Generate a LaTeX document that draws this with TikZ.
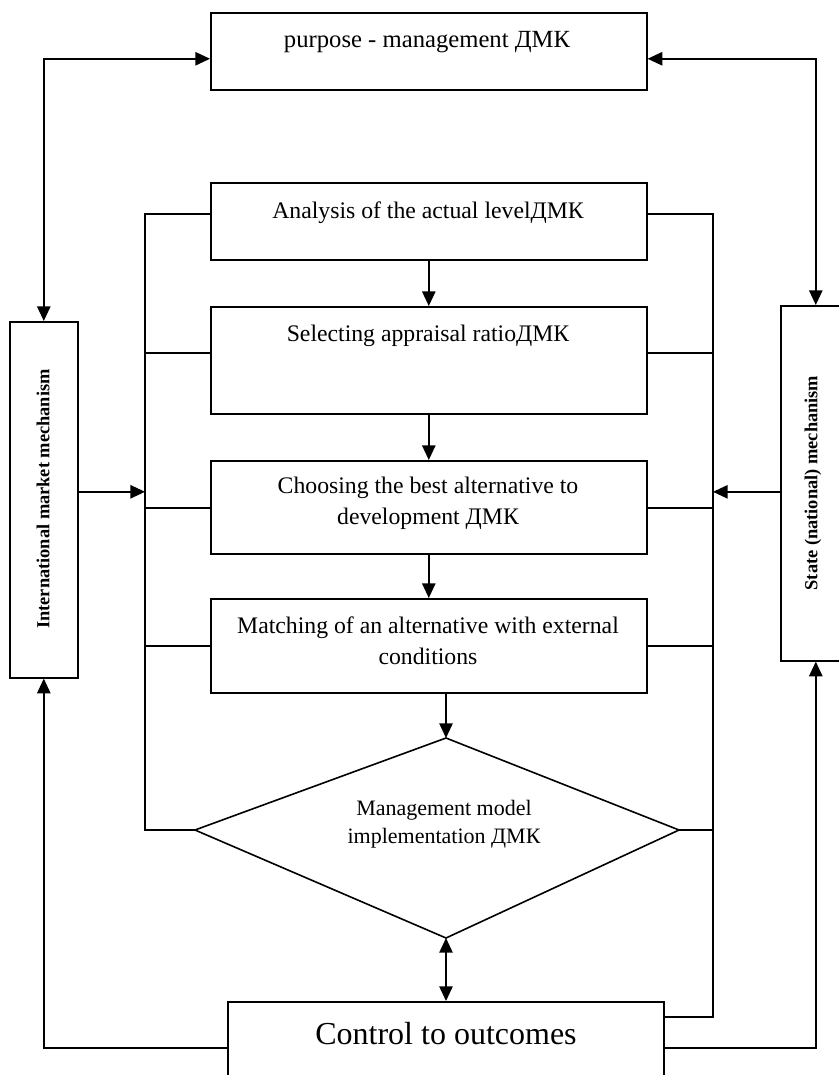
\documentclass[tikz,border=0pt]{standalone}
\usepackage{fontspec}
\setmainfont{Liberation Serif}
\usetikzlibrary{arrows.meta}
\begin{document}
\begin{tikzpicture}[x=0.75pt,y=-0.75pt,
  box/.style={draw, line width=1.2pt, inner sep=0pt, anchor=north west},
  sz/.style 2 args={minimum width={#1*0.75pt}, minimum height={#2*0.75pt}},
  lbl/.style={font=\fontsize{17.8}{23}\selectfont, align=center, inner sep=0pt},
  vlbl/.style={font=\fontsize{13.8}{16}\selectfont\bfseries, rotate=90, inner sep=0pt},
  link/.style={line width=1.2pt},
  tip/.tip={Triangle[length=11pt,width=10pt]},
  arr/.style={link, -tip},
  darr/.style={link, tip-tip}]
\clip (0,0) rectangle (839,1075);

% boxes
\node[box, sz={436}{77}]  (top) at (210,12)  {};
\node[box, sz={436}{77}]  (b1)  at (210,182) {};
\node[box, sz={436}{107}] (b2)  at (210,306) {};
\node[box, sz={436}{93}]  (b3)  at (210,460) {};
\node[box, sz={436}{94}]  (b4)  at (210,598) {};
\node[box, sz={436}{120}] (bot) at (227,1001) {};
\node[box, sz={68}{356}]  (lm)  at (9,321) {};
\node[box, sz={70}{355}]  (rm)  at (780,305) {};

% decision diamond
\coordinate (dT) at (446,738);
\coordinate (dR) at (679,830);
\coordinate (dB) at (446,938);
\coordinate (dL) at (195,830);
\draw[link] (dT) -- (dR) -- (dB) -- (dL) -- cycle;

% texts
\node[lbl, font=\fontsize{18.5}{23}\selectfont] (ttop) at (427,42) {purpose - management ДМК};
\node[lbl] (t1)   at (428,213) {Analysis of the actual levelДМК};
\node[lbl] (t2)   at (428,336) {Selecting appraisal ratioДМК};
\node[lbl] (t3)   at (428,503) {Choosing the best alternative to\\development ДМК};
\node[lbl] (t4)   at (428,641) {Matching of an alternative with external\\conditions};
\node[lbl, font=\fontsize{16.5}{21}\selectfont] (td) at (444,824) {Management model\\implementation ДМК};
\node[lbl, font=\fontsize{24}{28}\selectfont] (tbot) at (446,1034) {Control to outcomes};
\node[vlbl] (tlm) at (43,499)  {International market mechanism};
\node[vlbl] (trm) at (813,483) {State (national) mechanism};

% bus lines
\coordinate (LB) at (145,0);
\coordinate (RB) at (713,0);

% main chain
\draw[arr] (b1.south) -- (b2.north);
\draw[arr] (b2.south) -- (b3.north);
\draw[arr] (b3.south) -- (b4.north);
\draw[arr] (b4.south -| dT) -- (dT);
\draw[darr] (dB) -- (dB |- bot.north);

% left bus
\draw[link] ([yshift=5.6pt]b1.west) -| (dL -| LB) -- (dL);
\draw[link] ([yshift=5.6pt]b2.west) -- ([yshift=5.6pt]b2.west -| LB);
\draw[link] ([yshift=-0.4pt]b3.west) -- ([yshift=-0.4pt]b3.west -| LB);
\draw[link] (b4.west) -- (b4.west -| LB);

% right bus
\draw[link] ([yshift=5.6pt]b1.east) -| ([yshift=33.75pt]bot.east -| RB) -- ([yshift=33.75pt]bot.east);
\draw[link] ([yshift=5.6pt]b2.east) -- ([yshift=5.6pt]b2.east -| RB);
\draw[link] ([yshift=-0.4pt]b3.east) -- ([yshift=-0.4pt]b3.east -| RB);
\draw[link] (b4.east) -- (b4.east -| RB);
\draw[link] (dR) -- (dR -| RB);

% mechanisms feeding the bus
\draw[arr] ([yshift=6pt]lm.east) -- ([yshift=6pt]lm.east -| LB);
\draw[arr] ([yshift=-6.4pt]rm.west) -- ([yshift=-6.4pt]rm.west -| RB);

% links to the goal box
\draw[darr] (lm.north) |- ([yshift=-5.6pt]top.west);
\draw[darr] (rm.north) |- ([yshift=-5.6pt]top.east);

% feedback from control
\draw[arr] ([yshift=10.5pt]bot.west) -| (lm.south);
\draw[arr] ([yshift=10.5pt]bot.east) -| (rm.south);
\end{tikzpicture}
\end{document}
